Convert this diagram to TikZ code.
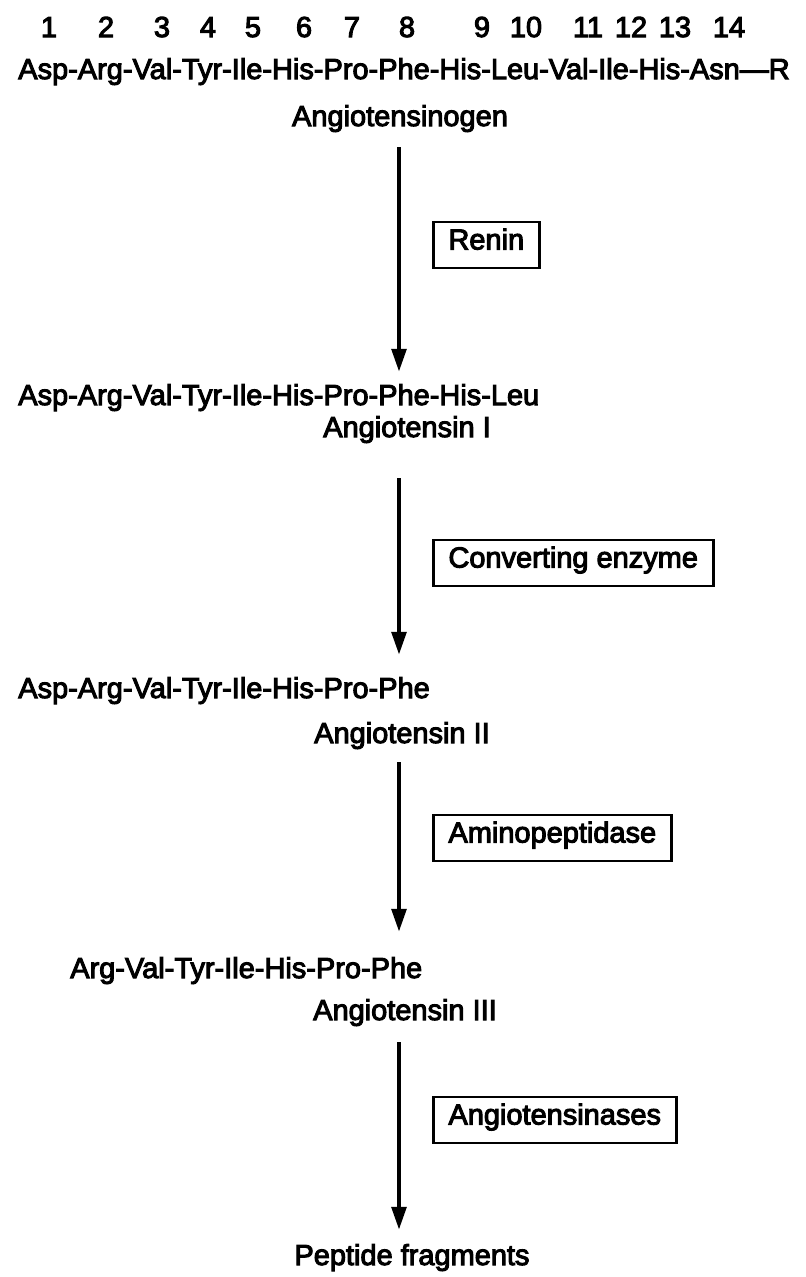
\documentclass[tikz,border=0pt]{standalone}
\usepackage{fontspec}
\newfontfamily\scanfont{Liberation Sans}[FakeBold=3.5]
\usepackage{tikz}
\usetikzlibrary{arrows.meta}

\newcommand{\seqfont}{\scanfont\fontsize{20.6}{24}\selectfont}

\begin{document}
\begin{tikzpicture}[x=0.025cm,y=-0.025cm,
    every node/.style={font=\seqfont, inner sep=0pt},
    enzbox/.style={draw, line width=1.8pt, anchor=west, inner xsep=0.38cm,
        minimum height=1.15cm, text height=0.72em, text depth=0.08em},
    react/.style={line width=3.2pt, -{Triangle[length=0.58cm,width=0.36cm]}}]

    \useasboundingbox (0,0) rectangle (806,1277);

    % numbers the residues
    \foreach \n/\x in {1/49,2/106,3/162,4/208,5/253,6/304,7/352,
                       8/407,9/482,10/526,11/588,12/631,13/675,14/729}
        \node[anchor=base] (num\n) at (\x,37) {\n};

    % peptides
    \node[anchor=base west] (pep0) at (18,79)
        {Asp-Arg-Val-Tyr-Ile-His-Pro-Phe-His-Leu-Val-Ile-His-Asn\textemdash R};
    \node[anchor=base west] (pep1) at (18,405) {Asp-Arg-Val-Tyr-Ile-His-Pro-Phe-His-Leu};
    \node[anchor=base west] (pep2) at (18,698) {Asp-Arg-Val-Tyr-Ile-His-Pro-Phe};
    \node[anchor=base west] (pep3) at (70,978) {Arg-Val-Tyr-Ile-His-Pro-Phe};

    % names of the peptides
    \node[anchor=base] (name0) at (400,126) {Angiotensinogen};
    \node[anchor=base] (name1) at (407,437) {Angiotensin I};
    \node[anchor=base] (name2) at (402,743) {Angiotensin II};
    \node[anchor=base] (name3) at (405,1020) {Angiotensin III};
    \node[anchor=base] (frag) at (412,1265) {Peptide fragments};

    % enzymes
    \node[enzbox] (renin) at (432,245) {Renin};
    \node[enzbox] (ace) at (432,563) {Converting enzyme};
    \node[enzbox] (amino) at (432,838) {Aminopeptidase};
    \node[enzbox] (ases) at (432,1120) {Angiotensinases};

    % draws reaction arrows
    \coordinate (top0) at (399,147);  \coordinate (tip0) at (399,372);
    \coordinate (top1) at (399,478);  \coordinate (tip1) at (399,655);
    \coordinate (top2) at (399,762);  \coordinate (tip2) at (399,932);
    \coordinate (top3) at (399,1042); \coordinate (tip3) at (399,1230);
    \draw[react] (top0) -- (tip0);
    \draw[react] (top1) -- (tip1);
    \draw[react] (top2) -- (tip2);
    \draw[react] (top3) -- (tip3);
\end{tikzpicture}
\end{document}
